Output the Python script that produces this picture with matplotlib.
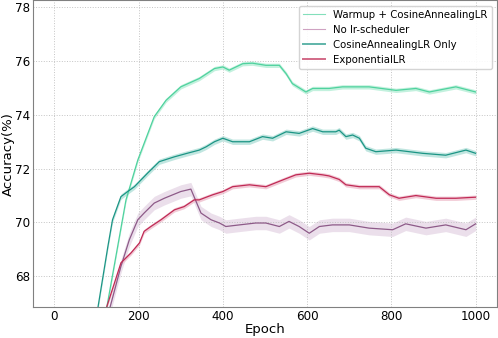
import numpy as np
import matplotlib
matplotlib.use("Agg")
from matplotlib import pyplot as plt
from matplotlib.lines import Line2D

# values (smoothed curves), epoch -> accuracy (%)
warm_ep = [90, 125, 170, 198, 237, 265, 300, 344, 380, 400, 415, 447, 470, 502, 534, 550, 565, 597, 613,
           652, 684, 747, 811, 858, 890, 953, 1000]
warm_acc = [63.8, 66.9, 70.84, 72.32, 73.93, 74.54, 75.04, 75.35, 75.72, 75.78, 75.66, 75.9, 75.92, 75.84,
            75.84, 75.53, 75.16, 74.85, 74.98, 74.98, 75.04, 75.04, 74.91, 74.98, 74.85, 75.04, 74.85]

nosch_ep = [100, 133, 158, 178, 198, 213, 237, 261, 300, 324, 348, 372, 392, 407, 439, 478, 502, 534, 557,
            581, 605, 629, 660, 700, 747, 803, 834, 882, 929, 977, 1000]
nosch_acc = [64.95, 66.9, 68.37, 69.36, 70.1, 70.35, 70.72, 70.9, 71.15, 71.24, 70.35, 70.1, 69.98, 69.85,
             69.91, 69.98, 69.98, 69.85, 70.04, 69.85, 69.6, 69.85, 69.91, 69.91, 69.79, 69.73, 69.95, 69.79,
             69.91, 69.73, 69.95]

cos_ep = [80, 104, 127, 138, 158, 174, 190, 221, 249, 285, 315, 344, 360, 380, 400, 423, 463, 494, 518, 550,
          581, 613, 637, 652, 668, 676, 692, 708, 724, 739, 763, 811, 874, 929, 977, 1000]
cos_acc = [64.6, 66.9, 69.11, 70.1, 70.96, 71.15, 71.33, 71.83, 72.26, 72.44, 72.57, 72.69, 72.81, 73.0,
           73.13, 73.0, 73.0, 73.19, 73.13, 73.37, 73.31, 73.49, 73.37, 73.37, 73.37, 73.43, 73.19, 73.25,
           73.13, 72.76, 72.63, 72.69, 72.57, 72.5, 72.69, 72.57]

exp_ep = [95, 125, 158, 182, 202, 213, 229, 253, 285, 308, 332, 344, 364, 376, 400, 423, 463, 502, 542, 573,
          605, 637, 652, 676, 692, 724, 771, 795, 818, 858, 906, 953, 1000]
exp_acc = [65.4, 66.9, 68.5, 68.87, 69.24, 69.67, 69.85, 70.1, 70.47, 70.59, 70.84, 70.84, 70.96, 71.03,
           71.15, 71.33, 71.4, 71.33, 71.58, 71.77, 71.83, 71.77, 71.73, 71.6, 71.4, 71.33, 71.33, 71.03,
           70.9, 71.0, 70.9, 70.9, 70.94]

labels = ["Warmup + CosineAnnealingLR", "No lr-scheduler", "CosineAnnealingLR Only", "ExponentialLR"]
spread = [0.08, 0.25, 0.1, 0.08]  # half width of the noisy band

fig = plt.figure(figsize=(4.98, 3.38), dpi=100)
ax = fig.add_axes([0.0669, 0.0926, 0.9305, 0.906])

series = [
    (warm_ep, warm_acc, "#4fd29e", "#b4eed6"),
    (nosch_ep, nosch_acc, "#8d5a88", "#e6d8e6"),
    (cos_ep, cos_acc, "#1c9585", "#b2e0d9"),
    (exp_ep, exp_acc, "#c02a55", "#efbfcd"),
]
for (ep, acc, c, band), w in zip(series, spread):
    ep = np.array(ep)
    acc = np.array(acc)
    ax.fill_between(ep, acc - w, acc + w, color=band, alpha=0.8, lw=0)
    ax.plot(ep, acc, color=c, lw=0.9)

ax.set_xlim(-50, 1050)
ax.set_ylim(66.87, 78.25)
ax.set_xticks([0, 200, 400, 600, 800, 1000])
ax.set_yticks([68, 70, 72, 74, 76, 78])
ax.tick_params(labelsize=8.6, length=0, pad=2.5)
ax.grid(True, linestyle=":", color="#c4c4c4", lw=0.7)
for s in ax.spines.values():
    s.set_color("#808080")
ax.set_xlabel("Epoch", fontsize=9.5, labelpad=0)
ax.set_ylabel("Accuracy(%)", fontsize=9.5, labelpad=0)

handles = [
    Line2D([], [], color="#4fd29e", lw=0.8, alpha=0.7),
    Line2D([], [], color="#b0659a", lw=0.8, alpha=0.6),
    Line2D([], [], color="#1c9585", lw=1.4, alpha=0.7),
    Line2D([], [], color="#c02a55", lw=1.4, alpha=0.7),
]
ax.legend(handles, labels, loc="upper right", fontsize=7.3, framealpha=0.9, edgecolor="#d0d0d0",
          handlelength=2.2, borderaxespad=0.5)

fig.savefig("out.png", dpi=100)
